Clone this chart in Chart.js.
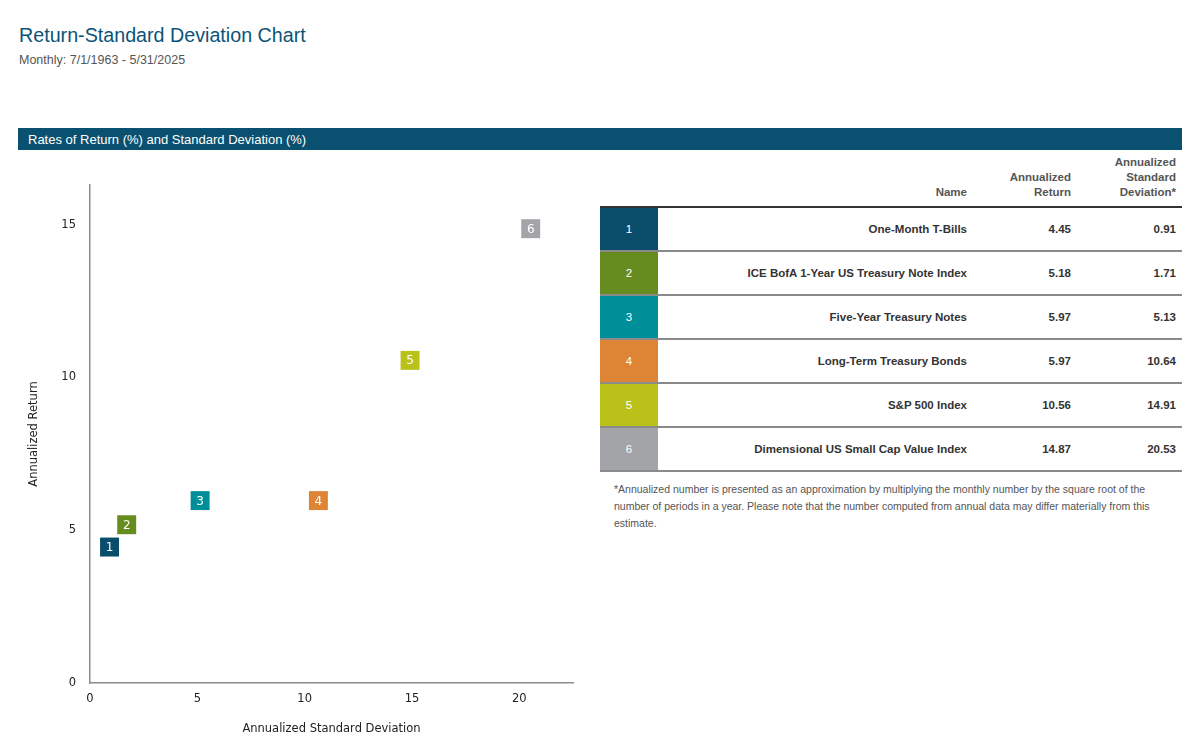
<!DOCTYPE html>
<html>
<head>
<meta charset="utf-8">
<script src="https://cdn.jsdelivr.net/npm/chart.js@4"></script>
<style>
  body { margin: 0; width: 1200px; height: 742px; background: #fff; font-family: "Liberation Sans", Arial, sans-serif; position: relative; overflow: hidden; }
  #title { position: absolute; left: 19px; top: 24px; font-size: 19.7px; color: #0b5477; }
  #subtitle { position: absolute; left: 19px; top: 53px; font-size: 12.5px; color: #555; }
  #bar { position: absolute; left: 18px; top: 128px; width: 1164px; height: 22px; background: #0a5070; color: #fff; font-size: 13px; line-height: 23px; box-sizing: border-box; padding-left: 10px; }
  #chartBox { position: absolute; left: 0; top: 160px; width: 590px; height: 582px; }
  #tbl { position: absolute; left: 600px; top: 155px; width: 582px; border-collapse: collapse; table-layout: fixed; font-size: 11.5px; }
  #tbl th { font-weight: bold; color: #555; text-align: right; vertical-align: bottom; line-height: 15px; padding: 0 6px 6px 0; border-bottom: 2px solid #333; }
  #tbl td { height: 42px; border-bottom: 2px solid #8a8a8a; text-align: right; font-weight: bold; color: #333; padding: 0 6px 0 0; }
  #tbl td.num { color: #fff; text-align: center; font-weight: normal; padding: 0; }
  #note { position: absolute; left: 614px; top: 481px; width: 560px; font-size: 10.5px; line-height: 17px; color: #555; }
</style>
</head>
<body>
<div id="title">Return-Standard Deviation Chart</div>
<div id="subtitle">Monthly: 7/1/1963 - 5/31/2025</div>
<div id="bar">Rates of Return (%) and Standard Deviation (%)</div>
<div id="chartBox"><canvas id="scatter"></canvas></div>
<table id="tbl">
  <colgroup>
    <col style="width:58px">
    <col style="width:315px">
    <col style="width:104px">
    <col style="width:105px">
  </colgroup>
  <thead>
    <tr>
      <th></th>
      <th>Name</th>
      <th>Annualized<br>Return</th>
      <th>Annualized<br>Standard<br>Deviation*</th>
    </tr>
  </thead>
  <tbody id="rows"></tbody>
</table>
<div id="note">*Annualized number is presented as an approximation by multiplying the monthly number by the square root of the number of periods in a year. Please note that the number computed from annual data may differ materially from this estimate.</div>

<script>
const labels = ['1', '2', '3', '4', '5', '6'];
const names = [
  'One-Month T-Bills',
  'ICE BofA 1-Year US Treasury Note Index',
  'Five-Year Treasury Notes',
  'Long-Term Treasury Bonds',
  'S&P 500 Index',
  'Dimensional US Small Cap Value Index'
];
const annReturn = [4.45, 5.18, 5.97, 5.97, 10.56, 14.87];
const annStdDev = [0.91, 1.71, 5.13, 10.64, 14.91, 20.53];
const colors = ['#0a4d6b', '#668b1e', '#008f98', '#de8535', '#bac21a', '#a2a4a7'];
const xTicks = [0, 5, 10, 15, 20];
const yTicks = [0, 5, 10, 15];

// Fill the table
const tbody = document.getElementById('rows');
names.forEach((name, i) => {
  const tr = document.createElement('tr');
  tr.innerHTML =
    '<td class="num" style="background:' + colors[i] + '">' + labels[i] + '</td>' +
    '<td></td>' +
    '<td>' + annReturn[i].toFixed(2) + '</td>' +
    '<td>' + annStdDev[i].toFixed(2) + '</td>';
  tr.children[1].textContent = name;
  tbody.appendChild(tr);
});

// Draw the number on top of each square
const numberLabels = {
  id: 'numberLabels',
  afterDatasetsDraw(chart) {
    const ctx = chart.ctx;
    const meta = chart.getDatasetMeta(0);
    ctx.save();
    ctx.fillStyle = '#fff';
    ctx.font = '12px "DejaVu Sans", sans-serif';
    ctx.textAlign = 'center';
    ctx.textBaseline = 'middle';
    meta.data.forEach((pt, i) => {
      ctx.fillText(labels[i], pt.x, pt.y + 1);
    });
    ctx.restore();
  }
};

const axisFont = { family: '"DejaVu Sans", sans-serif', size: 11.5 };

new Chart(document.getElementById('scatter'), {
  type: 'scatter',
  data: {
    datasets: [{
      data: annStdDev.map((x, i) => ({ x: x, y: annReturn[i] })),
      pointStyle: 'rect',
      pointRadius: 13.4,
      pointHoverRadius: 13.4,
      backgroundColor: colors,
      borderColor: colors,
      borderWidth: 0
    }]
  },
  options: {
    responsive: true,
    maintainAspectRatio: false,
    animation: false,
    layout: { padding: { top: 25, right: 17, bottom: 0, left: 0 } },
    plugins: { legend: { display: false }, tooltip: { enabled: false } },
    scales: {
      x: {
        type: 'linear',
        min: 0,
        max: 22.5,
        grid: { display: false, drawTicks: false },
        border: { color: '#8c8c8c', width: 1.5 },
        ticks: { padding: 9, color: '#222', font: axisFont, maxRotation: 0 },
        afterBuildTicks(scale) { scale.ticks = xTicks.map(v => ({ value: v })); },
        title: { display: true, text: 'Annualized Standard Deviation', color: '#222', font: axisFont, padding: { top: 4, bottom: 6 } },
        afterFit(scale) { scale.height = 59; }
      },
      y: {
        type: 'linear',
        min: 0,
        max: 16.3,
        grid: { display: false, drawTicks: false },
        border: { color: '#8c8c8c', width: 1.5 },
        ticks: { padding: 14, color: '#222', font: axisFont },
        afterBuildTicks(scale) { scale.ticks = yTicks.map(v => ({ value: v })); },
        title: { display: true, text: 'Annualized Return', color: '#222', font: axisFont, padding: { top: 27, bottom: 0 } },
        afterFit(scale) { scale.width = 90; }
      }
    }
  },
  plugins: [numberLabels]
});
</script>
</body>
</html>
